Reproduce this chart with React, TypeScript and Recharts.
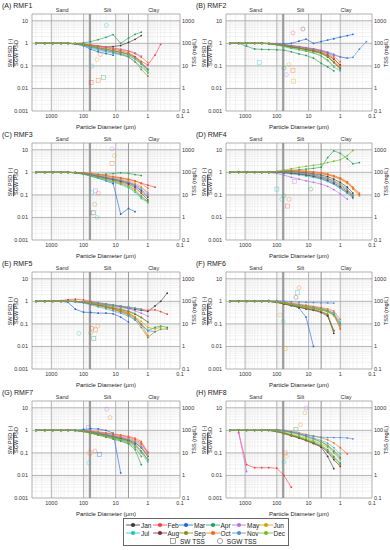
import React from 'react';
import { ComposedChart, Line, Scatter, XAxis, YAxis, CartesianGrid, ReferenceLine } from 'recharts';

const _ = null;

// particle diameters (um) shared by every panel, large -> small
const diameters = [3000, 1600, 900, 500, 300, 180, 100, 60, 35, 20, 12, 7, 4, 2.5, 1.6, 1, 0.6, 0.4, 0.25, 0.15];

const months = ['Jan', 'Feb', 'Mar', 'Apr', 'May', 'Jun', 'Jul', 'Aug', 'Sep', 'Oct', 'Nov', 'Dec'];
const monthColors = ['#3a3a3a', '#ff3b3b', '#1f63e0', '#1fa35c', '#bb6cf2', '#d7a400', '#17c4c8', '#7c2e33', '#8f8f10', '#ff6414', '#4f8ed8', '#6fbf1f'];

const xMajor = [1000, 100, 10, 1, 0.1];
const xGridTicks = [3000, 2000, 1000, 900, 800, 700, 600, 500, 400, 300, 200, 100, 90, 80, 70, 60, 50, 40, 30, 20, 10, 9, 8, 7, 6, 5, 4, 3, 2, 1, 0.9, 0.8, 0.7, 0.6, 0.5, 0.4, 0.3, 0.2, 0.1];
const yMajor = [0.001, 0.01, 0.1, 1, 10];
const yGridTicks = [0.001, 0.002, 0.003, 0.004, 0.005, 0.006, 0.007, 0.008, 0.009, 0.01, 0.02, 0.03, 0.04, 0.05, 0.06, 0.07, 0.08, 0.09, 0.1, 0.2, 0.3, 0.4, 0.5, 0.6, 0.7, 0.8, 0.9, 1, 2, 3, 4, 5, 6, 7, 8, 9, 10, 20];
const tssTicks = [0.1, 1, 10, 100, 1000];
const classLabels = ['Sand', 'Silt', 'Clay'];
const classCenters = [460, 18, 0.66];
const classBounds = [63, 4];

// SW/SGW PSD per month (Jan..Dec), indexed like `diameters`
const rmf1 = [
  [1, 1, 1, 1, 1, 0.97, 0.9, 0.82, 0.75, 0.7, 0.72, 0.8, 1.1, 1.5, 2.2],
  [1, 1, 1, 1, 1, 0.98, 0.92, 0.82, 0.72, 0.63, 0.55, 0.47, 0.38, 0.26, 0.16, 0.11, 0.3, 0.9],
  [1, 1, 1, 1, 1, 0.95, 0.78, 0.55, 0.42, 0.35, 0.3],
  [1, 1, 1, 1, 1, 1, 1.05, 1.2, 1.45, 1.85, 2.45, 1.0, 1.7, 2.5, 3.1],
  [1, 1, 1, 1, 1, 0.98, 0.93, 0.86, 0.78, 0.7, 0.62, 0.55, 0.47, 0.38, 0.27],
  [1, 1, 1, 1, 1, 0.97, 0.9, 0.78, 0.66, 0.56, 0.48, 0.4, 0.32, 0.22, 0.12, 0.05],
  [1, 1, 1, 1, 1, 0.95, 0.82, 0.62, 0.5, 0.42, 0.36, 0.31, 0.25, 0.16, 0.09, 0.05],
  [1, 1, 1, 1, 1, 0.96, 0.88, 0.75, 0.63, 0.54, 0.47, 0.4, 0.33, 0.24, 0.14, 0.07],
  [1, 1, 1, 1, 1, 0.95, 0.85, 0.7, 0.58, 0.48, 0.4, 0.33, 0.25, 0.15, 0.07, 0.035],
  [1, 1, 1, 1, 1, 0.98, 0.93, 0.85, 0.76, 0.68, 0.6, 0.53, 0.45, 0.35, 0.24, 0.14],
  [1, 1, 1, 1, 1, 0.95, 0.83, 0.68, 0.57, 0.48, 0.41, 0.35, 0.28, 0.2, 0.12, 0.07],
  [1, 1, 1, 1, 1, 0.97, 0.88, 0.76, 0.65, 0.56, 0.48, 0.41, 0.33, 0.24, 0.14, 0.06],
];
const rmf2 = [
  [1, 1, 1, 1, 1, 0.98, 0.9, 0.8, 0.7, 0.62, 0.55, 0.48, 0.4, 0.3, 0.2, 0.11],
  [1, 1, 1, 1, 1, 0.98, 0.92, 0.85, 0.76, 0.68, 0.6, 0.53, 0.45, 0.35, 0.22, 0.1],
  [1, 1, 1, 1, 1, 1, 0.98, 0.95, 1.0, 1.25, 1.55, 1.0, 1.2, 1.4, 1.6, 1.9, 2.2, 2.5],
  [1, 1, 0.75, 0.56, 0.54, 0.53, 0.52, 0.5, 0.42, 0.34, 0.29, 0.22, 0.13, 0.09, 0.06],
  [1, 1, 1, 1, 1, 1, 0.95, 0.88, 0.8, 0.72, 0.65, 0.58, 0.5, 0.42, 0.33, 0.25, 0.22],
  [1, 1, 1, 1, 1, 0.98, 0.92, 0.83, 0.73, 0.64, 0.56, 0.48, 0.38, 0.27, 0.16, 0.09],
  [1, 1, 1, 1, 1, 0.96, 0.85, 0.72, 0.6, 0.52, 0.45, 0.38, 0.28, 0.17, 0.09, 0.06],
  [1, 1, 1, 1, 1, 0.97, 0.88, 0.78, 0.68, 0.6, 0.52, 0.45, 0.36, 0.25, 0.14, 0.08],
  [1, 1, 1, 1, 1, 0.97, 0.9, 0.8, 0.7, 0.61, 0.53, 0.45, 0.36, 0.26, 0.15, 0.07],
  [1, 1, 1, 1, 1, 0.99, 0.95, 0.88, 0.8, 0.72, 0.64, 0.57, 0.48, 0.38, 0.27, 0.15],
  [1, 1, 1, 1, 1, 0.98, 0.93, 0.86, 0.78, 0.7, 0.62, 0.54, 0.46, 0.38, 0.3, 0.25, 0.22, 0.24, 0.55, 1.2],
  [1, 1, 1, 1, 1, 0.96, 0.86, 0.74, 0.63, 0.54, 0.46, 0.38, 0.28, 0.18, 0.1],
];
const rmf3 = [
  [1, 1, 1, 1, 1, 0.97, 0.88, 0.78, 0.68, 0.58, 0.5, 0.42, 0.34, 0.25, 0.15, 0.08],
  [1, 1, 1, 1, 1, 0.98, 0.93, 0.86, 0.78, 0.7, 0.62, 0.55, 0.48, 0.41, 0.33, 0.27, 0.22],
  [1, 1, 1, 1, 1, 0.96, 0.85, 0.7, 0.55, 0.42, 0.32, 0.014, 0.025, 0.018],
  [1, 1, 1, 1, 1, 0.98, 0.93, 0.86, 0.82, 0.83, 0.88, 0.95, 0.9, 0.8, 0.72],
  [1, 1, 1, 1, 1, 0.97, 0.9, 0.8, 0.7, 0.6, 0.52, 0.45, 0.37, 0.29, 0.2, 0.12],
  [1, 1, 1, 1, 1, 0.98, 0.92, 0.84, 0.75, 0.66, 0.58, 0.5, 0.42, 0.33, 0.23, 0.13],
  [1, 1, 1, 1, 1, 0.95, 0.82, 0.68, 0.55, 0.45, 0.36, 0.29, 0.21, 0.13, 0.07, 0.045],
  [1, 1, 1, 1, 1, 0.97, 0.88, 0.76, 0.65, 0.55, 0.46, 0.38, 0.3, 0.21, 0.12, 0.06],
  [1, 1, 1, 1, 1, 0.96, 0.86, 0.73, 0.61, 0.51, 0.42, 0.34, 0.26, 0.17, 0.09, 0.05],
  [1, 1, 1, 1, 1, 0.99, 0.95, 0.89, 0.82, 0.74, 0.66, 0.58, 0.5, 0.42, 0.32, 0.2],
  [1, 1, 1, 1, 1, 0.97, 0.89, 0.79, 0.69, 0.6, 0.52, 0.44, 0.36, 0.27, 0.17, 0.1],
  [1, 1, 1, 1, 1, 0.95, 0.83, 0.7, 0.58, 0.48, 0.39, 0.31, 0.23, 0.15, 0.08, 0.05],
];
const rmf4 = [
  [1, 1, 1, 1, 1, 1.0, 1.05, 1.08, 1.08, 1.02, 0.95, 0.86, 0.76, 0.64, 0.5, 0.36, 0.22, 0.12],
  [1, 1, 1, 1, 1, 1.0, 1.05, 1.1, 1.12, 1.1, 1.05, 0.97, 0.88, 0.78, 0.66, 0.52, 0.36, 0.2, 0.1],
  [1, 1, 1, 1, 1, 1.0, 1.0, 0.98, 0.92, 0.85, 0.76, 0.65, 0.52, 0.4, 0.3, 0.2, 0.12],
  [1, 1, 1, 1, 1, 1.0, 1.05, 1.12, 1.2, 1.3, 1.4, 1.5, 1.7, 4.5, 9.0, 7.0, 4.0, 2.4, 2.7],
  [1, 1, 1, 1, 1, 0.98, 0.9, 0.75, 0.6, 0.5, 0.42, 0.36, 0.3, 0.24, 0.17, 0.11, 0.065],
  [1, 1, 1, 1, 1, 1.0, 1.08, 1.15, 1.18, 1.15, 1.08, 1.0, 0.9, 0.78, 0.64, 0.48, 0.32, 0.18, 0.09],
  [1, 1, 1, 1, 1, 1.0, 0.98, 0.92, 0.85, 0.77, 0.68, 0.6, 0.5, 0.4, 0.3, 0.2, 0.12, 0.07],
  [1, 1, 1, 1, 1, 1.0, 1.0, 0.97, 0.92, 0.85, 0.77, 0.68, 0.58, 0.46, 0.34, 0.23, 0.14, 0.08],
  [1, 1, 1, 1, 1, 1.0, 1.02, 1.02, 0.98, 0.92, 0.84, 0.75, 0.64, 0.52, 0.39, 0.27, 0.16, 0.09],
  [1, 1, 1, 1, 1, 1.0, 1.1, 1.2, 1.25, 1.22, 1.15, 1.07, 0.97, 0.86, 0.72, 0.56, 0.38, 0.22, 0.12],
  [1, 1, 1, 1, 1, 1.0, 1.04, 1.06, 1.03, 0.97, 0.88, 0.78, 0.67, 0.55, 0.42, 0.3, 0.18, 0.1],
  [1, 1, 1, 1, 1, 1.0, 1.1, 1.25, 1.45, 1.65, 1.85, 2.05, 2.3, 2.7, 3.1, 3.6, 5.5, 9.3],
];
const rmf5 = [
  [1, 1, 1, 1, 1, 1.0, 0.95, 0.88, 0.8, 0.72, 0.65, 0.58, 0.5, 0.44, 0.4, 0.36, 0.62, 1.0, 2.3],
  [1, 1, 1.02, 1.08, 1.2, 1.25, 1.15, 1.0, 0.88, 0.78, 0.7, 0.62, 0.55, 0.5, 0.45, 0.4, 0.42, 0.35, 0.27],
  [1, 1, 1, 1, 0.9, 0.45, 0.33, 0.32, 0.3, 0.3, 0.28, 0.2, 0.12],
  [1, 1, 1, 1, 1, 0.98, 0.9, 0.78, 0.66, 0.55, 0.45, 0.36, 0.27, 0.18, 0.1, 0.05, 0.07, 0.08, 0.07],
  [1, 1, 1, 1, 1, 1.0, 0.95, 0.87, 0.78, 0.7, 0.62, 0.54, 0.46, 0.38, 0.3, 0.22],
  [1, 1, 1, 1, 1, 1.0, 0.92, 0.8, 0.68, 0.57, 0.47, 0.38, 0.3, 0.21, 0.13, 0.07, 0.06, 0.07],
  [1, 1, 1, 1, 1, 1.0, 0.96, 0.9, 0.82, 0.75, 0.68, 0.62, 0.56, 0.5, 0.44],
  [1, 1, 1, 1, 1, 0.98, 0.9, 0.8, 0.7, 0.6, 0.51, 0.43, 0.35, 0.27, 0.19, 0.12],
  [1, 1, 1, 1, 1, 0.98, 0.9, 0.78, 0.65, 0.54, 0.44, 0.34, 0.25, 0.15, 0.07, 0.025, 0.045, 0.058, 0.06],
  [1, 1, 1, 1, 1, 1.0, 0.93, 0.83, 0.72, 0.61, 0.5, 0.4, 0.3, 0.2, 0.1, 0.03],
  [1, 1, 1, 1, 1, 0.96, 0.85, 0.7, 0.57, 0.47, 0.38, 0.3, 0.22, 0.15, 0.09, 0.05, 0.045],
  [1, 1, 1, 1, 1, 1.0, 0.95, 0.85, 0.75, 0.65, 0.56, 0.47, 0.38, 0.29, 0.2, 0.12],
];
const rmf6 = [
  [1, 1, 1, 1, 1, 1.0, 0.9, 0.78, 0.66, 0.56, 0.48, 0.42, 0.35, 0.25, 0.038],
  [1, 1, 1, 1, 1, 1.0, 0.95, 0.86, 0.76, 0.67, 0.6, 0.53, 0.46, 0.38, 0.29, 0.06],
  [1, 1, 1, 1, 1, 1.0, 0.97, 0.88, 0.72, 0.5, 0.2, 0.01],
  [1, 1, 1, 1, 1, 1.0, 0.93, 0.83, 0.72, 0.63, 0.55, 0.48, 0.42, 0.35, 0.26, 0.1],
  [1, 1, 1, 1, 1, 1.0, 0.95, 0.87, 0.77, 0.68, 0.6, 0.53, 0.46, 0.38, 0.28, 0.09],
  [1, 1, 1, 1, 1, 1.0, 0.93, 0.84, 0.73, 0.64, 0.56, 0.49, 0.42, 0.34, 0.23, 0.07],
  [1, 1, 1, 1, 1, 1.0, 0.96, 0.89, 0.8, 0.71, 0.63, 0.56, 0.49, 0.41, 0.31, 0.12],
  [1, 1, 1, 1, 1, 1.0, 0.9, 0.77, 0.64, 0.54, 0.46, 0.4, 0.32, 0.22, 0.05],
  [1, 1, 1, 1, 1, 1.0, 0.92, 0.8, 0.68, 0.58, 0.5, 0.43, 0.36, 0.27, 0.05],
  [1, 1, 1, 1, 1, 1.0, 0.97, 0.91, 0.83, 0.75, 0.67, 0.6, 0.53, 0.46, 0.37, 0.16],
  [1, 1, 1, 1, 1.05, 1.1, 1.08, 1.02, 0.96, 0.92, 0.9, 0.88, 0.86, 0.85, 0.84],
  [1, 1, 1, 1, 1, 1.0, 0.94, 0.85, 0.74, 0.65, 0.57, 0.5, 0.43, 0.35, 0.24, 0.08],
];
const rmf7 = [
  [1, 1, 1, 1, 1, 1.0, 0.93, 0.83, 0.72, 0.62, 0.53, 0.45, 0.37, 0.28, 0.17, 0.07],
  [1, 1, 1, 1, 1, 1.0, 0.97, 0.9, 0.82, 0.74, 0.66, 0.58, 0.5, 0.4, 0.27, 0.1],
  [1, 1, 1, 1, 1, 1.02, 1.1, 1.18, 1.15, 1.0, 0.75, 0.013],
  [1, 1, 1, 1, 1, 0.98, 0.88, 0.74, 0.61, 0.5, 0.41, 0.33, 0.25, 0.14, 0.03],
  [1, 1, 1, 1, 1, 1.0, 0.95, 0.87, 0.78, 0.69, 0.6, 0.52, 0.44, 0.35, 0.24, 0.1],
  [1, 1, 1, 1, 1, 1.0, 0.94, 0.85, 0.75, 0.66, 0.57, 0.49, 0.41, 0.32, 0.21, 0.08],
  [1, 1, 1, 1, 1, 0.98, 0.9, 0.78, 0.66, 0.56, 0.47, 0.38, 0.3, 0.2, 0.1, 0.04],
  [1, 1, 1, 1, 1, 1.0, 0.92, 0.81, 0.7, 0.6, 0.51, 0.42, 0.34, 0.24, 0.12, 0.05],
  [1, 1, 1, 1, 1, 0.98, 0.89, 0.76, 0.64, 0.53, 0.44, 0.36, 0.27, 0.17, 0.07],
  [1, 1, 1, 1, 1, 1.0, 0.97, 0.92, 0.85, 0.78, 0.7, 0.62, 0.54, 0.45, 0.32, 0.11],
  [1, 1, 1, 1, 1, 1.0, 0.95, 0.86, 0.76, 0.66, 0.57, 0.48, 0.39, 0.29, 0.18, 0.07],
  [1, 1, 1, 1, 1, 0.99, 0.9, 0.79, 0.68, 0.58, 0.49, 0.4, 0.32, 0.22, 0.12, 0.05],
];
const rmf8 = [
  [1, 1, 1, 1, 1, 1.0, 0.9, 0.76, 0.6, 0.47, 0.36, 0.27, 0.18, 0.07, 0.02],
  [_, 0.8, 0.03, 0.022, 0.022, 0.022, 0.021, 0.01, 0.003],
  [1, 1, 1, 1, 1, 1.05, 1.08, 1.0, 0.86, 0.7, 0.55, 0.42, 0.31, 0.21, 0.12, 0.06],
  [1, 1, 1, 1, 1, 1.0, 0.92, 0.78, 0.63, 0.5, 0.39, 0.3, 0.22, 0.14, 0.07, 0.035],
  [_, 0.8, 0.015],
  [1, 1, 1, 1, 1, 1.02, 0.98, 0.88, 0.75, 0.62, 0.5, 0.4, 0.31, 0.22, 0.13, 0.07],
  [1, 1, 1, 1, 1, 1.05, 1.03, 0.94, 0.82, 0.69, 0.57, 0.46, 0.36, 0.27, 0.17, 0.09],
  [1, 1, 1, 1, 1, 1.0, 0.88, 0.72, 0.57, 0.45, 0.35, 0.26, 0.19, 0.11, 0.05, 0.025],
  [1, 1, 1, 1, 1, 1.0, 0.9, 0.75, 0.6, 0.48, 0.37, 0.28, 0.2, 0.12, 0.06, 0.03],
  [1, 1, 1, 1, 1, 1.05, 1.05, 0.98, 0.88, 0.77, 0.66, 0.56, 0.47, 0.38, 0.28, 0.17, 0.09],
  [1, 1, 1, 1, 1, 1.0, 1.0, 0.93, 0.83, 0.72, 0.62, 0.55, 0.5, 0.48, 0.48, 0.48, 0.46, 0.42],
  [1, 1, 1, 1, 1, 1.0, 0.93, 0.8, 0.66, 0.54, 0.43, 0.34, 0.26, 0.18, 0.1, 0.05],
];

// TSS samples: [diameter, TSS mg/L, month index, 0 = SW square / 1 = SGW circle]
const tss1 = [[54, 9.8, 6, 1], [58, 1.8, 1, 0], [35, 2.3, 9, 0], [24, 3.1, 3, 0], [19.5, 630, 6, 1], [38, 19, 5, 1], [30, 32, 9, 1], [24, 60, 4, 0]];
const tss2 = [[360, 14.5, 6, 0], [41, 11.5, 5, 1], [31, 6.4, 9, 0], [50, 4.1, 4, 1], [30, 2.1, 5, 0], [31, 290, 1, 1], [15, 430, 0, 1], [60, 8, 3, 1]];
const tss3 = [[55, 12.7, 6, 1], [35, 12, 9, 1], [42, 15, 4, 0], [50, 1.6, 0, 0], [38, 1.0, 6, 1], [45, 3.8, 8, 1], [13, 1100, 4, 1], [13, 250, 9, 0], [11, 550, 5, 1]];
const tss4 = [[100, 18, 6, 0], [70, 6.4, 6, 1], [59, 9, 3, 1], [41, 6.4, 9, 1], [46, 3.2, 1, 0], [8.5, 18, 3, 1], [28, 40, 4, 0]];
const tss5 = [[140, 3.8, 6, 1], [54, 6.4, 1, 1], [43, 5.4, 9, 0], [48, 2.3, 3, 0], [36, 8, 5, 1], [60, 4, 8, 1]];
const tss6 = [[80, 25, 5, 1], [63, 13, 6, 1], [55, 0.8, 5, 0], [20, 400, 9, 1], [22, 240, 6, 0], [25, 150, 7, 1]];
const tss7 = [[71, 130, 10, 0], [19, 870, 4, 1], [15, 370, 9, 1], [63, 10, 9, 0], [44, 12, 1, 1], [32, 8.5, 2, 0], [68, 3.6, 6, 1]];
const tss8 = [[12, 1000, 4, 1], [13, 600, 5, 1], [18, 180, 9, 1], [25, 110, 3, 0], [60, 4, 6, 1], [55, 10, 9, 0], [50, 7, 5, 1]];

const panels = [
  { title: '(A) RMF1', series: rmf1, tss: tss1 },
  { title: '(B) RMF2', series: rmf2, tss: tss2 },
  { title: '(C) RMF3', series: rmf3, tss: tss3 },
  { title: '(D) RMF4', series: rmf4, tss: tss4 },
  { title: '(E) RMF5', series: rmf5, tss: tss5 },
  { title: '(F) RMF6', series: rmf6, tss: tss6 },
  { title: '(G) RMF7', series: rmf7, tss: tss7 },
  { title: '(H) RMF8', series: rmf8, tss: tss8 },
];

const FONT = '"Liberation Sans", Arial, sans-serif';
const tickStyle = { fontSize: 5.5, fill: '#333', fontFamily: FONT };

const Panel = ({ title, series, tss, col, row }) => {
  const left = col === 0 ? 0 : 194;
  const top = row * 129;
  const width = 196;
  const marginRight = col === 0 ? 1 : 3;
  const plotLeft = left + 32;
  const plotRight = left + width - marginRight - 15;

  const data = diameters.map((d, i) => {
    const r: any = { d };
    series.forEach((s, m) => { r['m' + m] = s[i] ?? null; });
    return r;
  });
  const swPts = tss.filter(p => p[3] === 0).map(p => ({ d: p[0], tss: p[1], m: p[2] }));
  const sgwPts = tss.filter(p => p[3] === 1).map(p => ({ d: p[0], tss: p[1], m: p[2] }));

  const label: React.CSSProperties = { position: 'absolute', fontFamily: FONT, color: '#222', whiteSpace: 'nowrap' };

  return (
    <>
      <div style={{ position: 'absolute', left, top, width, height: 132 }}>
        <ComposedChart width={width} height={132} data={data} margin={{ top: 14, right: marginRight, bottom: 0, left: 0 }}>
          <CartesianGrid stroke="#e6e6e6" strokeWidth={0.5} />
          <XAxis dataKey="d" type="number" scale="log" domain={[0.1, 4000]} reversed allowDataOverflow
            ticks={xGridTicks} tickFormatter={v => (xMajor.includes(v) ? String(v) : '')}
            height={21} tick={tickStyle} tickLine={false} axisLine={false} tickSize={1} tickMargin={2} interval={0} />
          <YAxis type="number" scale="log" domain={[0.001, 20]} allowDataOverflow
            ticks={yGridTicks} tickFormatter={v => (yMajor.includes(v) ? String(v) : '')}
            width={32} tick={tickStyle} tickLine={false} axisLine={false} tickSize={2} tickMargin={2} interval={0} />
          <YAxis yAxisId="tss" orientation="right" type="number" scale="log" domain={[0.1, 2000]} allowDataOverflow
            ticks={tssTicks} width={15} tick={tickStyle} tickLine={false} axisLine={false} tickSize={1} tickMargin={1} interval={0} />

          {xMajor.slice(0, 4).map(v => <ReferenceLine key={'xv' + v} x={v} stroke="#a8a8a8" strokeWidth={0.8} />)}
          {yMajor.slice(1).map(v => <ReferenceLine key={'yv' + v} y={v} stroke="#a8a8a8" strokeWidth={0.8} />)}
          <ReferenceLine x={classBounds[0]} stroke="#9c9c9c" strokeWidth={2.2} />
          <ReferenceLine x={classBounds[1]} stroke="#9c9c9c" strokeWidth={1.1} />
          <ReferenceLine x={4000} stroke="#8c8c8c" strokeWidth={0.6} />
          <ReferenceLine x={0.1} stroke="#8c8c8c" strokeWidth={0.6} />
          <ReferenceLine y={0.001} stroke="#8c8c8c" strokeWidth={0.6} />
          <ReferenceLine y={20} stroke="#8c8c8c" strokeWidth={0.6} />
          {classCenters.map((c, k) => (
            <ReferenceLine key={'cl' + k} x={c} stroke="none"
              label={{ value: classLabels[k], position: 'top', offset: 2, fontSize: 5.5, fill: '#333', fontFamily: FONT }} />
          ))}

          <Scatter data={swPts} yAxisId="tss" dataKey="tss" isAnimationActive={false}
            shape={(p: any) => <rect x={p.cx - 2} y={p.cy - 2} width={4} height={4} fill="none" stroke={monthColors[p.payload.m]} strokeWidth={0.6} opacity={0.55} />} />
          <Scatter data={sgwPts} yAxisId="tss" dataKey="tss" isAnimationActive={false}
            shape={(p: any) => <circle cx={p.cx} cy={p.cy} r={2} fill="none" stroke={monthColors[p.payload.m]} strokeWidth={0.6} opacity={0.55} />} />

          {months.map((mn, m) => (
            <Line key={mn} type="linear" dataKey={'m' + m} stroke={monthColors[m]} strokeWidth={0.6}
              dot={{ r: 0.9, fill: monthColors[m], stroke: 'none' }} activeDot={false}
              isAnimationActive={false} connectNulls={false} />
          ))}
        </ComposedChart>
      </div>
      <div style={{ ...label, left: left + 2, top: top + 2, fontSize: 7 }}>{title}</div>
      <div style={{ ...label, left: left + 14, top: top + 53, fontSize: 5.5, lineHeight: 1.05, textAlign: 'center', transform: 'translate(-50%, -50%) rotate(-90deg)' }}>
        <div><span style={{ textDecoration: 'underline' }}>SW PSD</span> (-)</div>
        <div>SGW PSD</div>
      </div>
      <div style={{ ...label, left: plotRight + 13.5, top: top + 53, fontSize: 5.5, transform: 'translate(-50%, -50%) rotate(-90deg)' }}>TSS (mg/L)</div>
      <div style={{ ...label, left: (plotLeft + plotRight) / 2, top: top + 126.5, fontSize: 6, transform: 'translate(-50%, -50%)' }}>Particle Diameter (μm)</div>
    </>
  );
};

const Legend = () => (
  <div style={{ position: 'absolute', left: 123, top: 518, width: 166, height: 28, border: '1px solid #666', boxSizing: 'border-box', fontFamily: FONT, fontSize: 6.5, color: '#222', background: '#fff' }}>
    {[0, 1].map(r => (
      <div key={r} style={{ display: 'flex', height: 8, marginTop: r === 0 ? 2 : 0, paddingLeft: 2 }}>
        {months.slice(r * 6, r * 6 + 6).map((mn, k) => {
          const c = monthColors[r * 6 + k];
          return (
            <div key={mn} style={{ width: 26.5, display: 'flex', alignItems: 'center' }}>
              <svg width={14} height={6} style={{ flex: 'none' }}>
                <line x1={0} y1={3} x2={14} y2={3} stroke={c} strokeWidth={0.8} />
                <circle cx={7} cy={3} r={2.1} fill={c} />
              </svg>
              <span style={{ marginLeft: 1 }}>{mn}</span>
            </div>
          );
        })}
      </div>
    ))}
    <div style={{ display: 'flex', height: 8, alignItems: 'center', paddingLeft: 46 }}>
      <svg width={6} height={6} style={{ flex: 'none' }}><rect x={0.5} y={0.5} width={5} height={5} fill="none" stroke="#666" strokeWidth={0.6} /></svg>
      <span style={{ marginLeft: 4 }}>SW TSS</span>
      <svg width={6} height={6} style={{ flex: 'none', marginLeft: 12 }}><circle cx={3} cy={3} r={2.6} fill="none" stroke="#666" strokeWidth={0.6} /></svg>
      <span style={{ marginLeft: 4 }}>SGW TSS</span>
    </div>
  </div>
);

export default function App() {
  return (
    <div style={{ position: 'absolute', left: 0, top: 0, width: 390, height: 550, background: '#fff', overflow: 'hidden' }}>
      {panels.map((p, i) => (
        <Panel key={p.title} title={p.title} series={p.series} tss={p.tss} col={i % 2} row={Math.floor(i / 2)} />
      ))}
      <Legend />
    </div>
  );
}
